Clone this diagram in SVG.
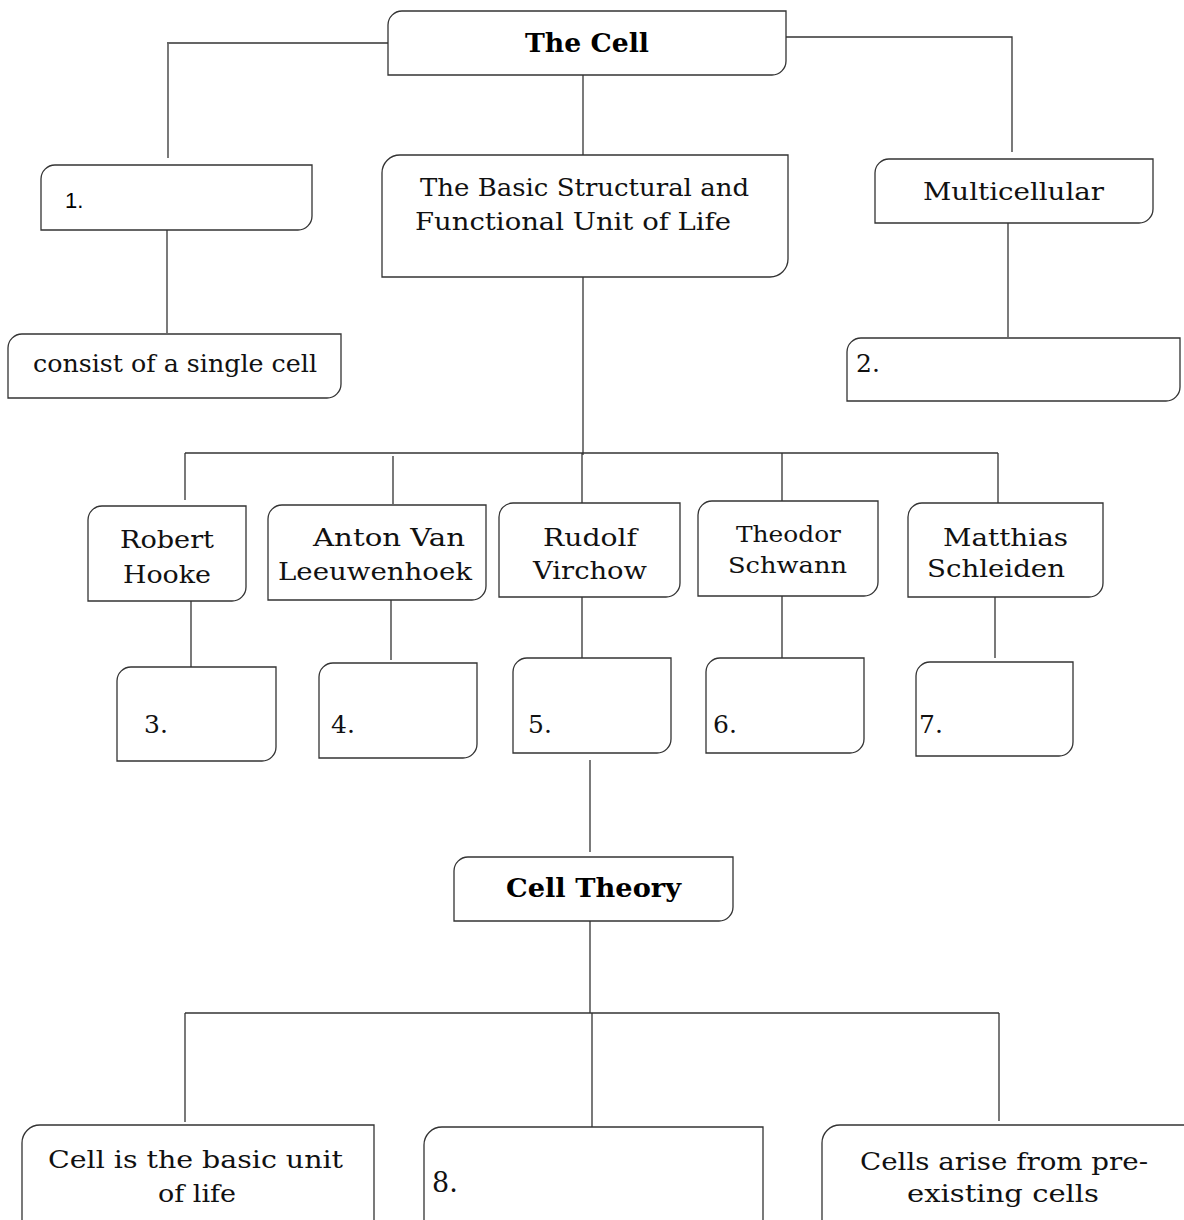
<svg xmlns="http://www.w3.org/2000/svg" width="1184" height="1220" viewBox="0 0 1184 1220">
<style>
.box{fill:#fff;stroke:#333;stroke-width:1.3}
.ln{stroke:#333;stroke-width:1.3;fill:none}
.t{font-family:"DejaVu Serif","Liberation Serif",serif;font-size:24px;fill:#111}
.b{font-family:"DejaVu Serif","Liberation Serif",serif;font-size:26px;font-weight:bold;fill:#000}
.n{font-family:"Liberation Sans","Open Sans",sans-serif;font-size:22px;fill:#000}
.nt{font-family:"DejaVu Serif","Liberation Serif",serif;font-size:25px;fill:#111}
</style>
<rect width="1184" height="1220" fill="#fff"/>
<g id="connectors">
<path class="ln" d="M388,43 H167 M168,44 V158"/>
<path class="ln" d="M786,37 H1012 V152"/>
<path class="ln" d="M583,75 V155"/>
<path class="ln" d="M167,230 V333"/>
<path class="ln" d="M1008,221 V337"/>
<path class="ln" d="M583,277 V455"/>
<path class="ln" d="M185,453 H998"/>
<path class="ln" d="M185,453 V500 M393,456 V504 M582,453 V503 M782,453 V502 M998,453 V503"/>
<path class="ln" d="M191,601 V669 M391,600 V660 M582,597 V658 M782,596 V658 M995,597 V658"/>
<path class="ln" d="M590,760 V852"/>
<path class="ln" d="M590,921 V1013"/>
<path class="ln" d="M185,1013 H999"/>
<path class="ln" d="M185,1013 V1122 M592,1013 V1127 M999,1013 V1121"/>
</g>
<g id="the-cell">
<path class="box" d="M402,11 H786 V61 A14,14 0 0 1 772,75 H388 V25 A14,14 0 0 1 402,11 Z"/>
<text class="b" x="525" y="52" textLength="124" lengthAdjust="spacingAndGlyphs">The Cell</text>
</g>
<g id="n1">
<path class="box" d="M55,165 H312 V216 A14,14 0 0 1 298,230 H41 V179 A14,14 0 0 1 55,165 Z"/>
<text class="n" x="65" y="208">1.</text>
</g>
<g id="single-cell">
<path class="box" d="M22,334 H341 V384 A14,14 0 0 1 327,398 H8 V348 A14,14 0 0 1 22,334 Z"/>
<text class="t" x="33" y="372" textLength="284" lengthAdjust="spacingAndGlyphs">consist of a single cell</text>
</g>
<g id="basic-unit">
<path class="box" d="M400,155 H788 V259 A18,18 0 0 1 770,277 H382 V173 A18,18 0 0 1 400,155 Z"/>
<text class="t" x="420" y="196" textLength="329" lengthAdjust="spacingAndGlyphs">The Basic Structural and</text>
<text class="t" x="415" y="230" textLength="316" lengthAdjust="spacingAndGlyphs">Functional Unit of Life</text>
</g>
<g id="multicellular">
<path class="box" d="M889,159 H1153 V209 A14,14 0 0 1 1139,223 H875 V173 A14,14 0 0 1 889,159 Z"/>
<text class="t" x="923" y="200" textLength="181" lengthAdjust="spacingAndGlyphs">Multicellular</text>
</g>
<g id="n2">
<path class="box" d="M861,338 H1180 V387 A14,14 0 0 1 1166,401 H847 V352 A14,14 0 0 1 861,338 Z"/>
<text class="nt" x="856" y="372">2.</text>
</g>
<g id="hooke">
<path class="box" d="M102,506 H246 V587 A14,14 0 0 1 232,601 H88 V520 A14,14 0 0 1 102,506 Z"/>
<text class="t" x="120" y="548" textLength="94" lengthAdjust="spacingAndGlyphs">Robert</text>
<text class="t" x="123" y="583" textLength="88" lengthAdjust="spacingAndGlyphs">Hooke</text>
</g>
<g id="leeuwenhoek">
<path class="box" d="M282,505 H486 V586 A14,14 0 0 1 472,600 H268 V519 A14,14 0 0 1 282,505 Z"/>
<text class="t" x="313" y="546" textLength="152" lengthAdjust="spacingAndGlyphs">Anton Van</text>
<text class="t" x="278" y="580" textLength="194" lengthAdjust="spacingAndGlyphs">Leeuwenhoek</text>
</g>
<g id="virchow">
<path class="box" d="M513,503 H680 V583 A14,14 0 0 1 666,597 H499 V517 A14,14 0 0 1 513,503 Z"/>
<text class="t" x="543" y="546" textLength="94" lengthAdjust="spacingAndGlyphs">Rudolf</text>
<text class="t" x="533" y="579" textLength="114" lengthAdjust="spacingAndGlyphs">Virchow</text>
</g>
<g id="schwann">
<path class="box" d="M712,501 H878 V582 A14,14 0 0 1 864,596 H698 V515 A14,14 0 0 1 712,501 Z"/>
<text class="t" x="736" y="542" textLength="105" lengthAdjust="spacingAndGlyphs" style="font-size:22px">Theodor</text>
<text class="t" x="728" y="573" textLength="119" lengthAdjust="spacingAndGlyphs" style="font-size:22px">Schwann</text>
</g>
<g id="schleiden">
<path class="box" d="M922,503 H1103 V583 A14,14 0 0 1 1089,597 H908 V517 A14,14 0 0 1 922,503 Z"/>
<text class="t" x="943" y="546" textLength="125" lengthAdjust="spacingAndGlyphs">Matthias</text>
<text class="t" x="927" y="577" textLength="138" lengthAdjust="spacingAndGlyphs">Schleiden</text>
</g>
<g id="n3">
<path class="box" d="M131,667 H276 V747 A14,14 0 0 1 262,761 H117 V681 A14,14 0 0 1 131,667 Z"/>
<text class="nt" x="144" y="733">3.</text>
</g>
<g id="n4">
<path class="box" d="M333,663 H477 V744 A14,14 0 0 1 463,758 H319 V677 A14,14 0 0 1 333,663 Z"/>
<text class="nt" x="331" y="733">4.</text>
</g>
<g id="n5">
<path class="box" d="M527,658 H671 V739 A14,14 0 0 1 657,753 H513 V672 A14,14 0 0 1 527,658 Z"/>
<text class="nt" x="528" y="733">5.</text>
</g>
<g id="n6">
<path class="box" d="M720,658 H864 V739 A14,14 0 0 1 850,753 H706 V672 A14,14 0 0 1 720,658 Z"/>
<text class="nt" x="713" y="733">6.</text>
</g>
<g id="n7">
<path class="box" d="M930,662 H1073 V742 A14,14 0 0 1 1059,756 H916 V676 A14,14 0 0 1 930,662 Z"/>
<text class="nt" x="919" y="733">7.</text>
</g>
<g id="cell-theory">
<path class="box" d="M468,857 H733 V907 A14,14 0 0 1 719,921 H454 V871 A14,14 0 0 1 468,857 Z"/>
<text class="b" x="506" y="897" textLength="175" lengthAdjust="spacingAndGlyphs">Cell Theory</text>
</g>
<g id="basic-unit-of-life">
<path class="box" d="M22,1240 V1143 A18,18 0 0 1 40,1125 H374 V1240"/>
<text class="t" x="48" y="1168" textLength="295" lengthAdjust="spacingAndGlyphs">Cell is the basic unit</text>
<text class="t" x="158" y="1202" textLength="78" lengthAdjust="spacingAndGlyphs">of life</text>
</g>
<g id="n8">
<path class="box" d="M424,1240 V1145 A18,18 0 0 1 442,1127 H763 V1240"/>
<text class="nt" x="432" y="1192" style="font-size:27px">8.</text>
</g>
<g id="pre-existing">
<path class="box" d="M822,1240 V1143 A18,18 0 0 1 840,1125 H1190 V1240"/>
<text class="t" x="860" y="1170" textLength="288" lengthAdjust="spacingAndGlyphs">Cells arise from pre-</text>
<text class="t" x="907" y="1202" textLength="192" lengthAdjust="spacingAndGlyphs">existing cells</text>
</g>
</svg>
